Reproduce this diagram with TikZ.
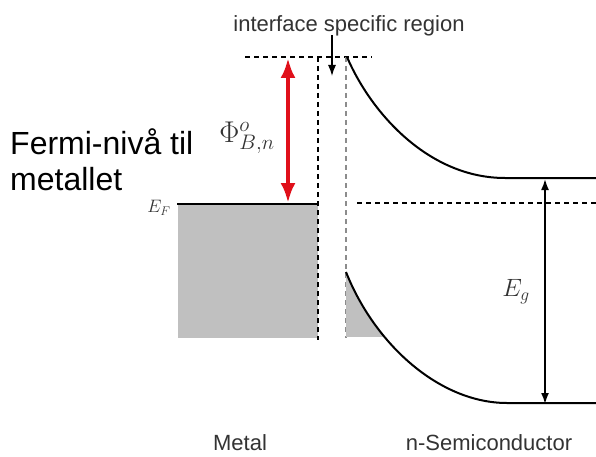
\RequirePackage{fix-cm}
\documentclass[tikz,border=0pt]{standalone}
\usepackage{fontspec}
\setmainfont{Liberation Sans}
\usetikzlibrary{arrows.meta}
\definecolor{metalgray}{HTML}{C0C0C0}
\definecolor{redarr}{HTML}{E0101A}
\definecolor{lblcol}{HTML}{333333}
\tikzset{
  lbl/.style={text=lblcol, font=\fontsize{22}{26}\selectfont, inner sep=0pt},
  bigtxt/.style={text=black, font=\fontsize{32}{36}\selectfont, inner sep=0pt, anchor=base west},
  dsh/.style={line width=2pt, dash pattern=on 5pt off 4pt},
  band/.style={line width=2pt},
}
\begin{document}
\begin{tikzpicture}[x=1pt,y=-1pt]
\useasboundingbox (0,0) rectangle (596,457);
% labels
\node[lbl, anchor=base] (top) at (349,32) {interface specific region};
\node[bigtxt] (f1) at (10,155) {Fermi-nivå til};
\node[bigtxt] (f2) at (10,190) {metallet};
\node[lbl, anchor=base] (metal) at (240,450) {Metal};
\node[lbl, anchor=base] (semi) at (489,450) {n-Semiconductor};
\node[text=lblcol, font=\fontsize{18}{21}\selectfont, inner sep=0pt] (ef) at (159,208) {$E_F$};
\node[text=lblcol, font=\fontsize{25}{29}\selectfont, inner sep=0pt] (eg) at (516,292) {$E_g$};
\node[text=lblcol, font=\fontsize{30}{34}\selectfont, inner sep=0pt] (phi) at (247,138) {$\Phi^{o}_{B,n}$};
% metal
\fill[metalgray] (178,204) rectangle (318,338);
\coordinate (fl) at (177,204);
\coordinate (fr) at (318,204);
\draw[line width=2.6pt] (fl) -- (fr);
% dashed lines
\coordinate (dl) at (245,57);
\coordinate (dr) at (372,57);
\draw[dsh] (dl) -- (dr);
\coordinate (v1t) at (318,57);
\coordinate (v1b) at (318,340);
\draw[dsh] (v1t) -- (v1b);
\coordinate (v2t) at (346,57);
\coordinate (v2b) at (346,338);
\draw[dsh, draw=black!45] (v2t) -- (v2b);
\coordinate (sfl) at (357,203);
\coordinate (sfr) at (596,203);
\draw[dsh, line width=1.8pt] (sfl) -- (sfr);
% grey triangle under valence band
\begin{scope}
\clip (346,272) .. controls (375,345) and (440,403) .. (507,403) -- (346,403) -- cycle;
\fill[metalgray] (346,270) rectangle (400,337);
\end{scope}
% bands
\coordinate (cb0) at (347,57);
\coordinate (cb1) at (505,178);
\coordinate (cb2) at (596,178);
\draw[band] (cb0) .. controls (372,115) and (430,178) .. (cb1) -- (cb2);
\coordinate (vb0) at (346,272);
\coordinate (vb1) at (507,403);
\coordinate (vb2) at (596,403);
\draw[band] (vb0) .. controls (375,345) and (440,403) .. (vb1) -- (vb2);
% arrows
\coordinate (ia) at (332,35);
\coordinate (ib) at (332,76);
\draw[line width=1.3pt, -{Latex[length=11pt,width=8pt]}] (ia) -- (ib);
\coordinate (ra) at (288,58);
\coordinate (rb) at (288,203);
\draw[redarr, line width=4pt, {Latex[length=20pt,width=15pt]}-{Latex[length=20pt,width=15pt]}] (ra) -- (rb);
\coordinate (ga) at (545,179);
\coordinate (gb) at (545,404);
\draw[line width=1.8pt, {Latex[length=11pt,width=8pt]}-{Latex[length=11pt,width=8pt]}] (ga) -- (gb);
\end{tikzpicture}
\end{document}
